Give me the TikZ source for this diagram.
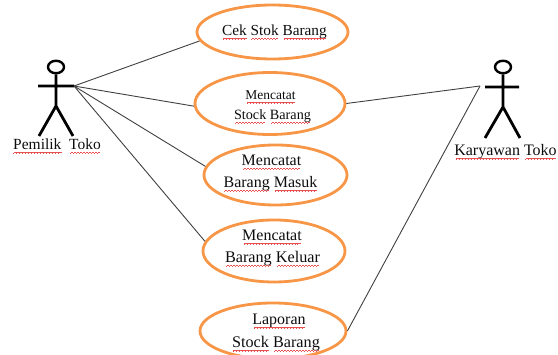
\documentclass[tikz,border=0pt]{standalone}
\usepackage{fontspec}
\setmainfont{Liberation Serif}
\usetikzlibrary{shapes.geometric}
\definecolor{caseorange}{HTML}{F79646}
\definecolor{spellred}{HTML}{E85050}
\newsavebox\wordbox
\newcommand{\wavepiece}{\hbox{{\color{spellred}\rule[-.9pt]{.75pt}{.5pt}\rule[-.45pt]{.75pt}{.5pt}\rule[0pt]{.75pt}{.5pt}\rule[-.45pt]{.75pt}{.5pt}}}}
\newcommand{\sq}[1]{\sbox\wordbox{#1}\usebox\wordbox\llap{\raisebox{-2.4pt}{\hbox to \wd\wordbox{\cleaders\wavepiece\hfill}}}}
\newcommand{\fs}[1]{\fontsize{#1}{#1}\selectfont}
\tikzset{
  usecase/.style={ellipse,draw=caseorange,line width=2.8pt,inner sep=0pt},
  head/.style={ellipse,draw,line width=2.4pt,minimum width=16pt,minimum height=12.5pt,inner sep=0pt},
  label/.style={inner sep=0pt,anchor=base,text=black!95},
  actorline/.style={line width=2.8pt,black},
  link/.style={line width=.9pt,black!75},
}
\begin{document}
\begin{tikzpicture}[x=1pt,y=-1pt]
\useasboundingbox (0,0) rectangle (558,355);
\clip (0,0) rectangle (558,355);
% use cases
\node[usecase,minimum width=151pt,minimum height=54pt] (c1) at (272.5,32) {};
\node[usecase,minimum width=150pt,minimum height=62pt] (c2) at (270,103.5) {};
\node[usecase,minimum width=143pt,minimum height=60pt] (c3) at (275.5,175) {};
\node[usecase,minimum width=142pt,minimum height=62pt] (c4) at (274,251) {};
\node[usecase,minimum width=146pt,minimum height=56pt] (c5) at (273,331) {};
% actor left
\node[head] (hl) at (56,67) {};
\coordinate (hipl) at (56,106);
\coordinate (armll) at (38,86);
\coordinate (armrl) at (74,86);
\coordinate (legal) at (39,136);
\coordinate (legbl) at (73,136);
\draw[actorline] (hl.south) -- (hipl) (armll) -- (armrl) (legal) -- (hipl) -- (legbl);
% actor right
\node[head] (hr) at (503,67) {};
\coordinate (hipr) at (503,107);
\coordinate (armlr) at (485,87);
\coordinate (armrr) at (519,87);
\coordinate (legar) at (485,138);
\coordinate (legbr) at (520,138);
\coordinate (handr) at (480,86);
\draw[actorline] (hr.south) -- (hipr) (armlr) -- (armrr) (legar) -- (hipr) -- (legbr);
% links
\draw[link] (armrl) -- (c1.187);
\draw[link] (armrl) -- (c2.182);
\draw[link] (armrl) -- (c3.173);
\draw[link] (armrl) -- (c4.172);
\draw[link] (c2.east) -- (handr);
\draw[link] (c5.east) -- (handr);
% texts
\node[label] (t0) at (57,150) {\fs{15.5}\sq{Pemilik}\ \ \sq{Toko}};
\node[label] (t1) at (505.5,156) {\fs{16}\sq{Karyawan} \sq{Toko}};
\node[label] (t2) at (274.5,36) {\fs{15.3}\sq{Cek} \sq{Stok} \sq{Barang}};
\node[label] (t3) at (270.5,100) {\fs{13.5}\sq{Mencatat}};
\node[label] (t4) at (272.5,120) {\fs{14.2}\sq{Stock} \sq{Barang}};
\node[label] (t5) at (271.5,166) {\fs{16}\sq{Mencatat}};
\node[label] (t6) at (270.5,188) {\fs{16}\sq{Barang} \sq{Masuk}};
\node[label] (t7) at (272,241) {\fs{16}\sq{Mencatat}};
\node[label] (t8) at (272.5,263) {\fs{16.2}\sq{Barang} \sq{Keluar}};
\node[label] (t9) at (279,325) {\fs{16}\sq{Laporan}};
\node[label] (t10) at (276,348) {\fs{16.2}\sq{Stock} \sq{Barang}};
\end{tikzpicture}
\end{document}
